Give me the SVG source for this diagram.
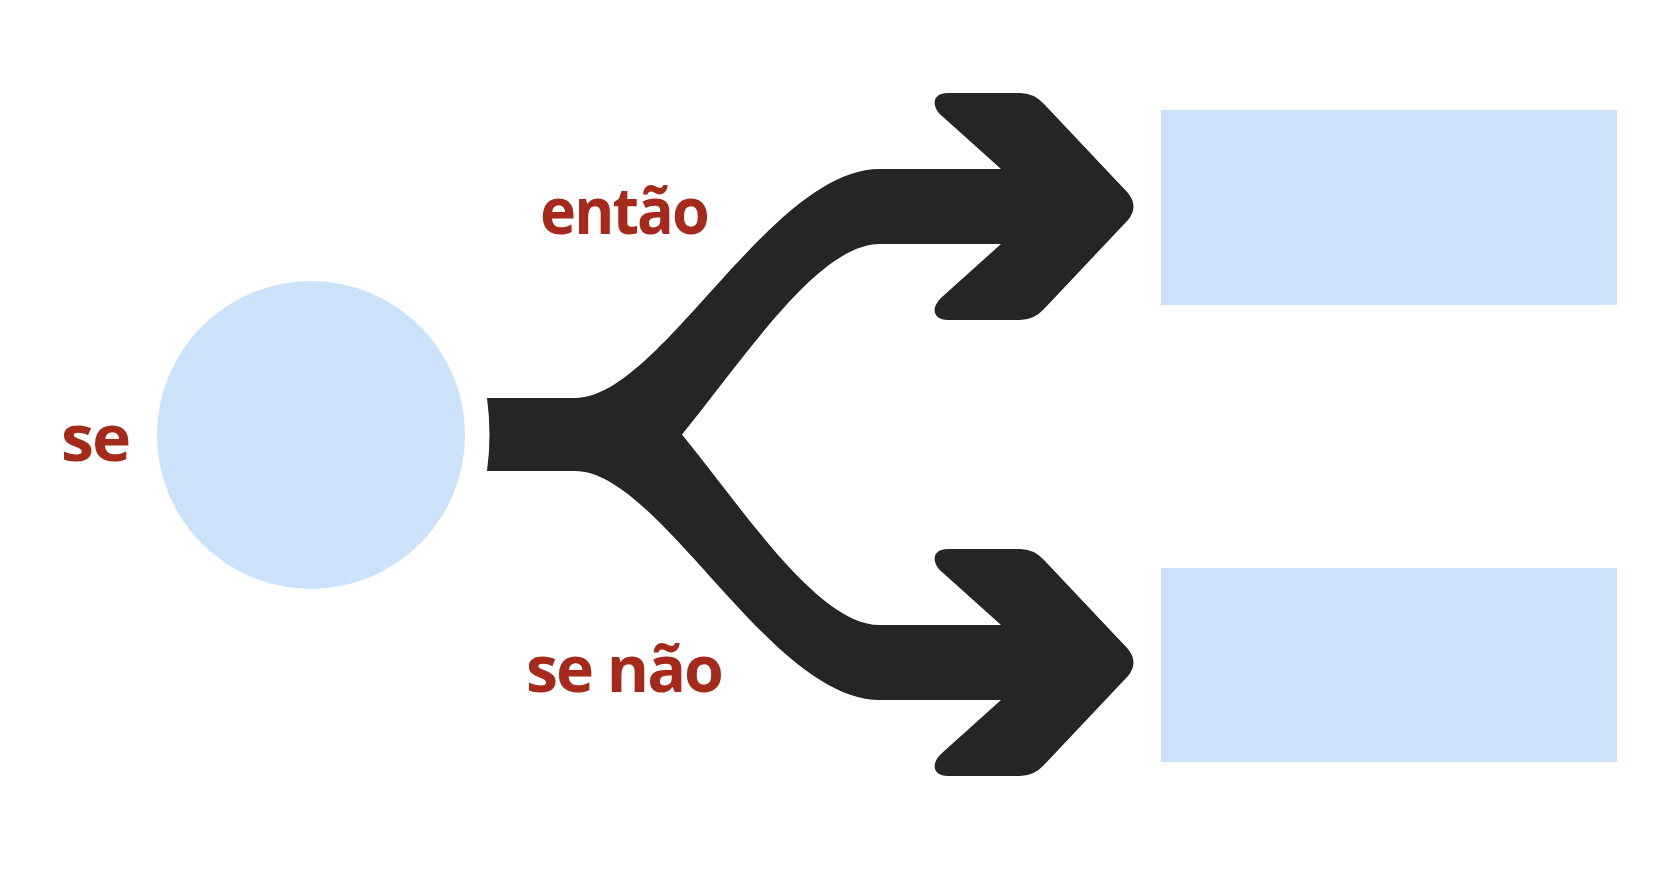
<svg xmlns="http://www.w3.org/2000/svg" width="1658" height="892" viewBox="0 0 1658 892">
  <style>
    .node { fill: #CCE1FA; }
    .lbl { font-family: "Open Sans", "Liberation Sans", sans-serif; font-weight: 700; font-size: 65px; letter-spacing: -2px; fill: #A52A1B; }
    .arrow { fill: #252525; }
  </style>
  <rect width="1658" height="892" fill="#FFFFFF"/>
  <g id="connectors">
    <path class="arrow" d="M487,398 L575,398 C660,398 770,169 880,169 L1001,169 L942,116 C930,105 933,93 948,93 L1020,93 Q1034,93 1044,104 L1128,193 Q1139,206.5 1128,220 L1044,309 Q1034,320 1020,320 L948,320 C933,320 930,308 942,297 L1001,244 L880,244 C820,244 750,350 682,434.5 C750,519 820,625 880,625 L1001,625 L942,572 C930,561 933,549 948,549 L1020,549 Q1034,549 1044,560 L1128,649 Q1139,662.5 1128,676 L1044,765 Q1034,776 1020,776 L948,776 C933,776 930,764 942,753 L1001,700 L880,700 C770,700 660,471 575,471 L487,471 Q492,434.5 487,398 Z"/>
  </g>
  <g id="node-condition">
    <circle class="node" cx="311" cy="435" r="154"/>
    <text class="lbl" x="61" y="461" textLength="68" lengthAdjust="spacingAndGlyphs">se</text>
  </g>
  <g id="label-then">
    <text class="lbl" x="540" y="234" textLength="168" lengthAdjust="spacingAndGlyphs">então</text>
  </g>
  <g id="label-else">
    <text class="lbl" x="526" y="692" textLength="196" lengthAdjust="spacingAndGlyphs">se não</text>
  </g>
  <g id="node-then">
    <rect class="node" x="1161" y="110" width="456" height="195"/>
  </g>
  <g id="node-else">
    <rect class="node" x="1161" y="568" width="456" height="194"/>
  </g>
</svg>
